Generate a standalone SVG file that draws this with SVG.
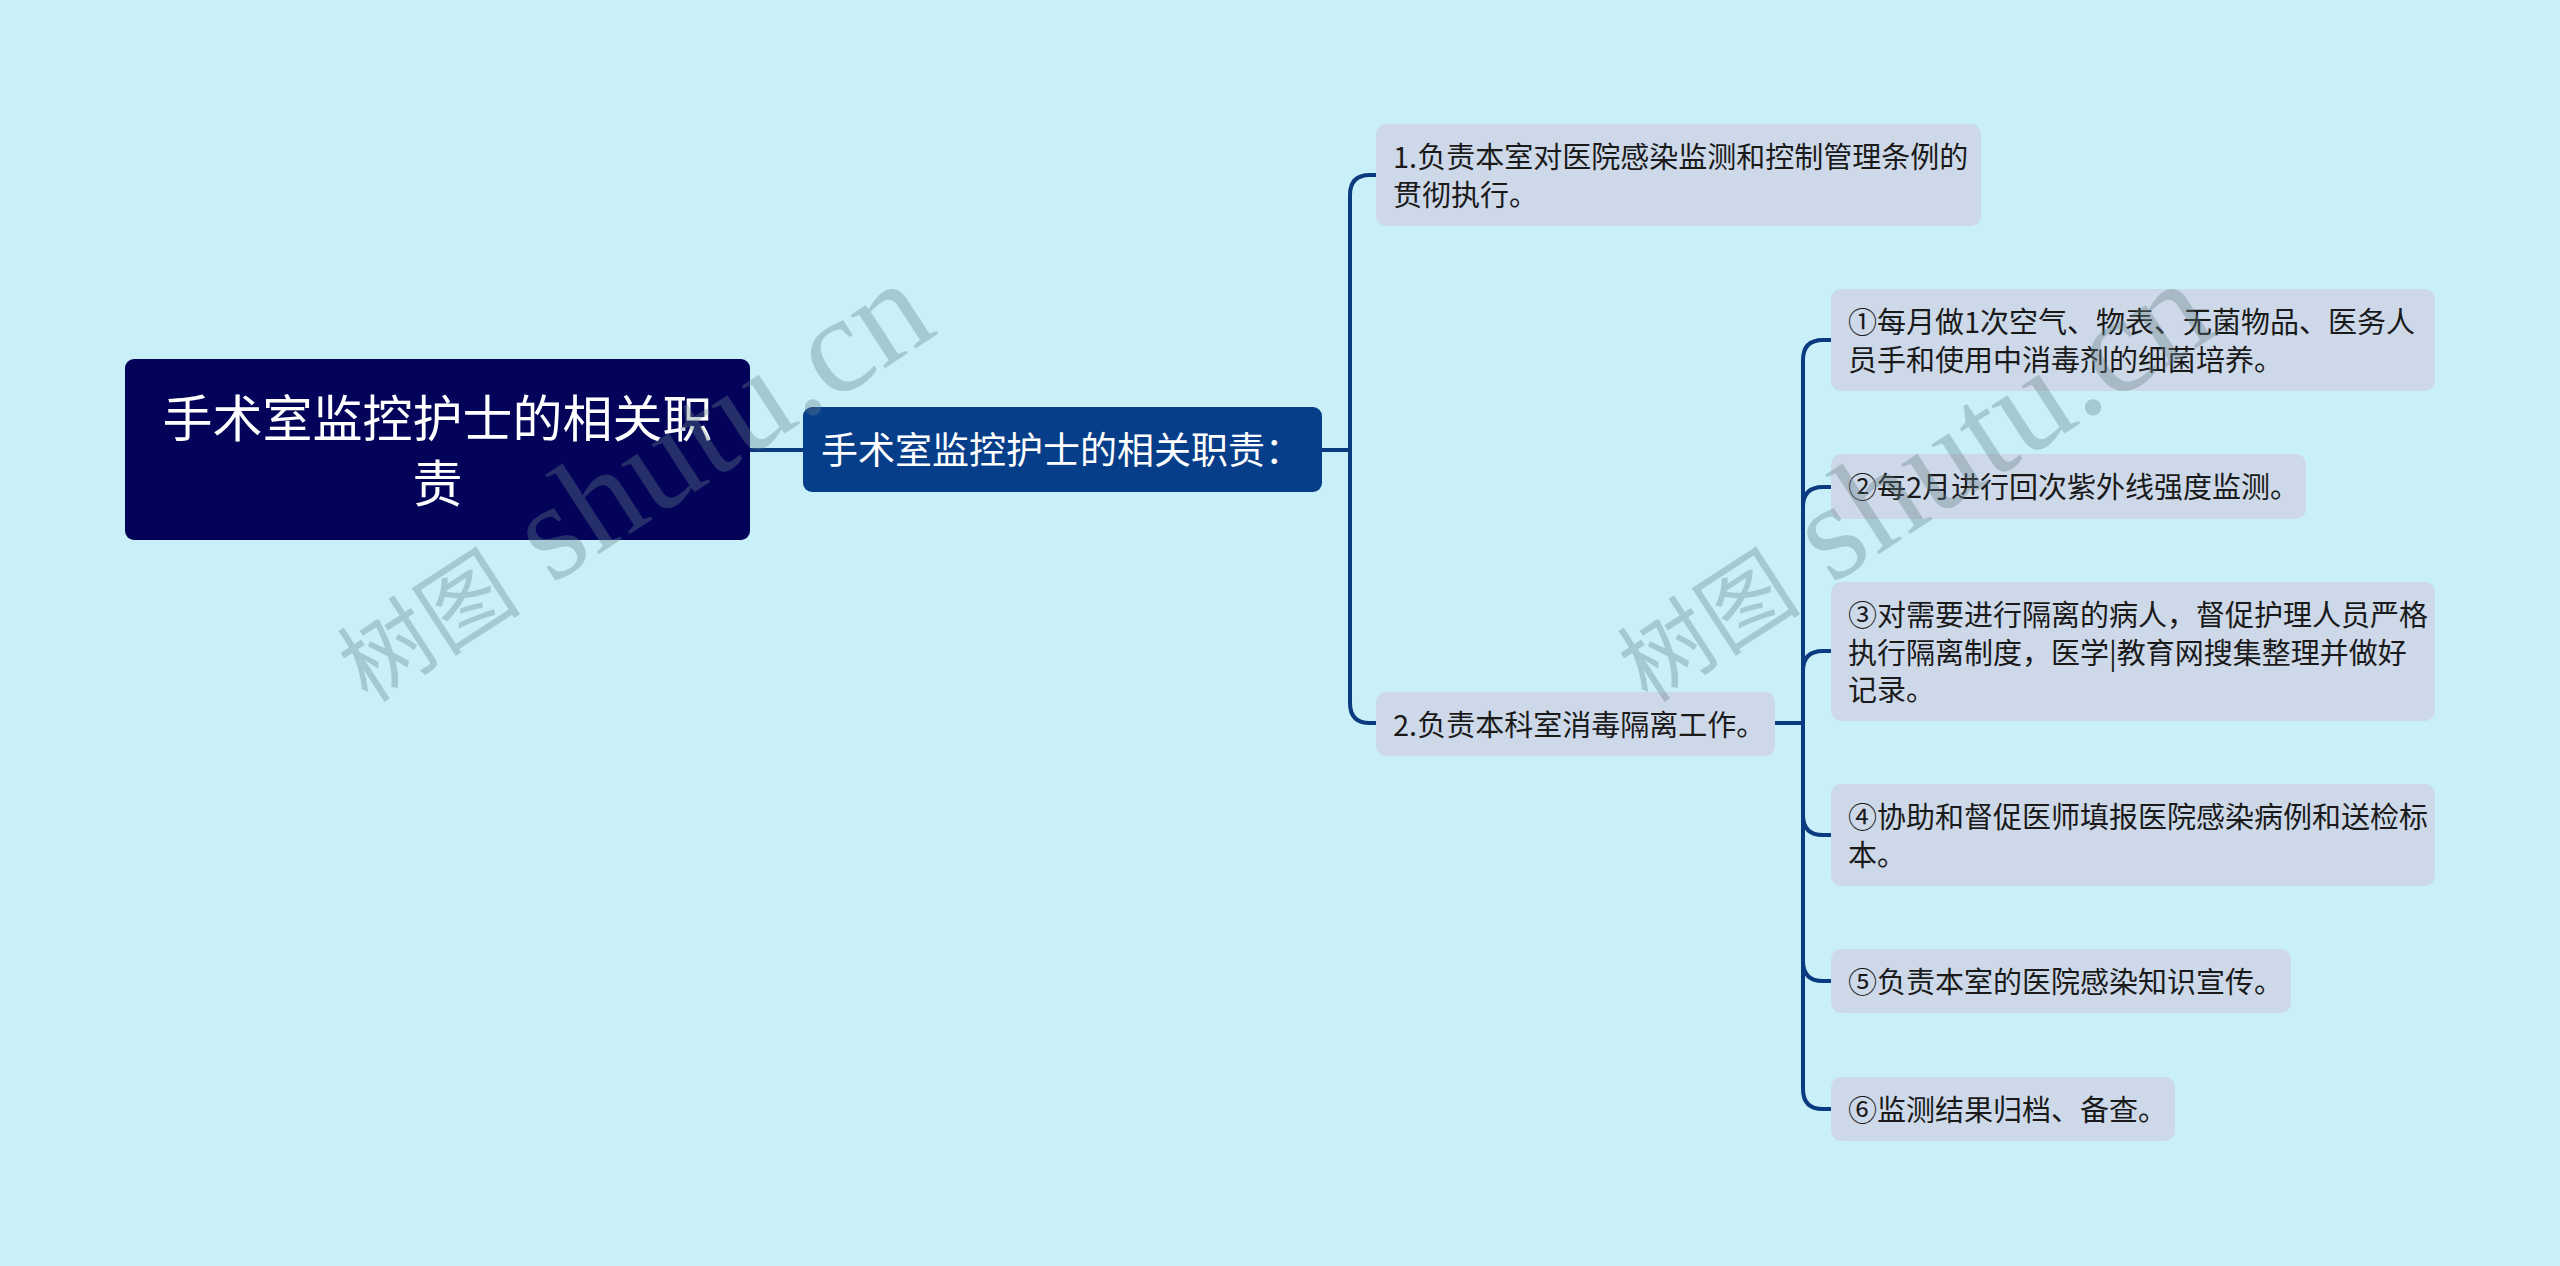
<svg xmlns="http://www.w3.org/2000/svg" width="2560" height="1266" viewBox="0 0 2560 1266">
<style>
.bg{fill:#c9f0f8}
.root{fill:#03035a}
.sub{fill:#063e8a}
.leaf{fill:#cdd8e8}
.t{font-family:"Noto Sans CJK SC","Noto Sans",sans-serif}
.tw{fill:#ffffff}
.tl{fill:#1a1a1a;font-size:29px}
.conn{fill:none;stroke:#0b3a80;stroke-width:4;stroke-linecap:round}
.wm{fill:#64828a;opacity:0.35}
.wmc{font-family:"Noto Sans CJK SC",sans-serif;font-size:92px}
.wml{font-family:"Liberation Serif",serif;font-size:138px}
</style>
<rect class="bg" x="0" y="0" width="2560" height="1266"/>
<g id="connectors">
<path class="conn" d="M750,450 H803"/>
<path class="conn" d="M1322,450 H1350 V195 Q1350,175 1370,175 H1376"/>
<path class="conn" d="M1350,450 V703 Q1350,723 1370,723 H1376"/>
<path class="conn" d="M1775,723 H1803"/>
<path class="conn" d="M1803,723 V360 Q1803,340 1823,340 H1831"/>
<path class="conn" d="M1803,723 V507 Q1803,487 1823,487 H1831"/>
<path class="conn" d="M1803,723 V671 Q1803,651 1823,651 H1831"/>
<path class="conn" d="M1803,723 V815 Q1803,835 1823,835 H1831"/>
<path class="conn" d="M1803,723 V961 Q1803,981 1823,981 H1831"/>
<path class="conn" d="M1803,723 V1089 Q1803,1109 1823,1109 H1831"/>
</g>
<g id="root">
<rect class="root" x="125" y="359" width="625" height="181" rx="9"/>
<text class="t tw" font-size="50" text-anchor="middle"><tspan x="437.5" y="437">手术室监控护士的相关职</tspan><tspan x="437.5" y="502">责</tspan></text>
</g>
<g id="sub">
<rect class="sub" x="803" y="407" width="519" height="85" rx="9"/>
<text class="t tw" font-size="37" x="821" y="464">手术室监控护士的相关职责：</text>
</g>
<g id="item1">
<rect class="leaf" x="1376" y="124" width="605" height="102" rx="10"/>
<text class="t tl"><tspan x="1393" y="168">1.负责本室对医院感染监测和控制管理条例的</tspan><tspan x="1393" y="206">贯彻执行。</tspan></text>
</g>
<g id="item2">
<rect class="leaf" x="1376" y="692" width="399" height="64" rx="10"/>
<text class="t tl" x="1393" y="736">2.负责本科室消毒隔离工作。</text>
</g>
<g id="sub1">
<rect class="leaf" x="1831" y="289" width="604" height="102" rx="10"/>
<text class="t tl"><tspan x="1848" y="333">①每月做1次空气、物表、无菌物品、医务人</tspan><tspan x="1848" y="371">员手和使用中消毒剂的细菌培养。</tspan></text>
</g>
<g id="sub2">
<rect class="leaf" x="1831" y="454" width="475" height="65" rx="10"/>
<text class="t tl" x="1848" y="498">②每2月进行回次紫外线强度监测。</text>
</g>
<g id="sub3">
<rect class="leaf" x="1831" y="582" width="604" height="139" rx="10"/>
<text class="t tl"><tspan x="1848" y="626">③对需要进行隔离的病人，督促护理人员严格</tspan><tspan x="1848" y="663.5">执行隔离制度，医学|教育网搜集整理并做好</tspan><tspan x="1848" y="701">记录。</tspan></text>
</g>
<g id="sub4">
<rect class="leaf" x="1831" y="784" width="604" height="102" rx="10"/>
<text class="t tl"><tspan x="1848" y="828">④协助和督促医师填报医院感染病例和送检标</tspan><tspan x="1848" y="866">本。</tspan></text>
</g>
<g id="sub5">
<rect class="leaf" x="1831" y="949" width="460" height="64" rx="10"/>
<text class="t tl" x="1848" y="993">⑤负责本室的医院感染知识宣传。</text>
</g>
<g id="sub6">
<rect class="leaf" x="1831" y="1077" width="344" height="64" rx="10"/>
<text class="t tl" x="1848" y="1121">⑥监测结果归档、备查。</text>
</g>
<g id="watermarks">
<text class="wm" transform="translate(368,704) rotate(-33)"><tspan class="wmc">树图</tspan><tspan class="wml"> shutu.cn</tspan></text>
<text class="wm" transform="translate(1648,704) rotate(-33)"><tspan class="wmc">树图</tspan><tspan class="wml"> shutu.cn</tspan></text>
</g>
</svg>
